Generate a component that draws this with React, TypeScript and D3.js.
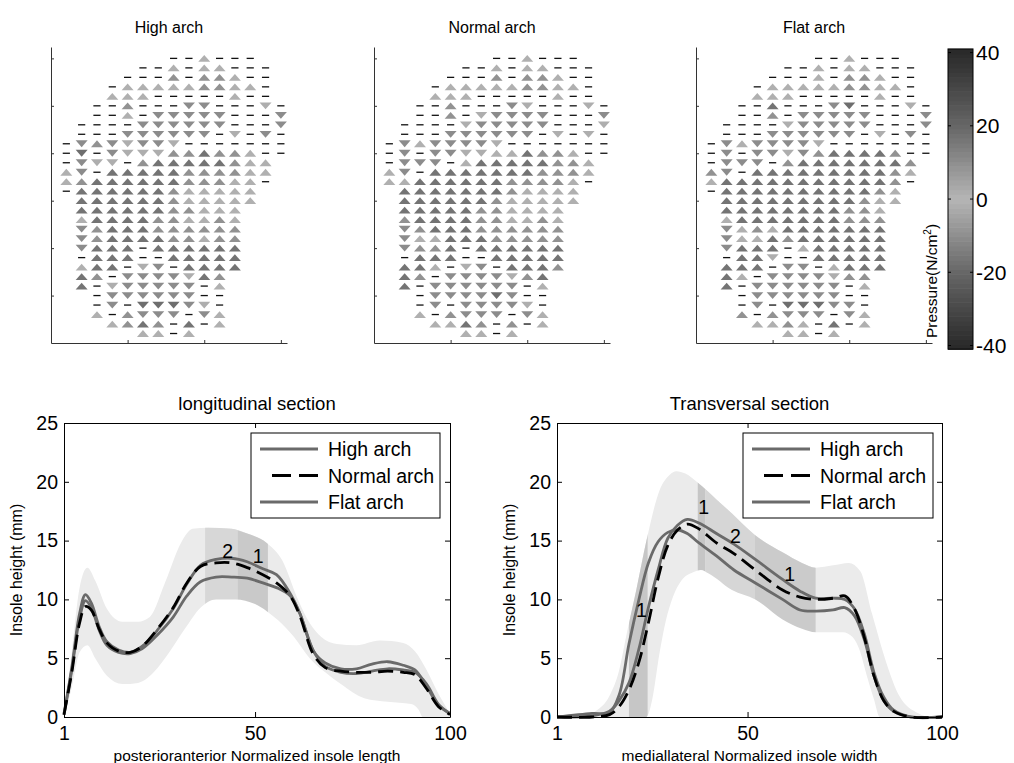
import React, { useEffect, useRef } from 'react';
import * as d3 from 'd3';

const W = 1014;
const H = 763;
const FONT = '"Liberation Sans", Arial, Helvetica, sans-serif';

// ---- top: pressure difference maps (rows top->bottom, 15 columns) ----
// '.' empty, '-' ~0, A/B/C rising (light->dark), a/b/c falling
const panelTitles = ['High arch', 'Normal arch', 'Flat arch'];

const highGrid = [
  '.......--A---..', '.....--A-AA---.', '....---B-BBA--.', '...-AAAAABBAA-.', '...AAA-----A--.',
  '..--B---bb---a-', '..--A-bbbbb---b', '.----bbbbbb---b', '.---bbbbbb-a-b-', '-bBbabba-------',
  '-c-baaaBBCBBA--', '-baa-BCCCCCBAA.', 'Ab-CCCCCBBBBAA.', 'ABCCCCCCBBBAA-.', '-CCCCCCBAAAAA..',
  '.CCCCCCBAAAAA..', '.CCCCCCBBAAA...', '.ACCCCBBAABA...', '.bBCCCBBBBBB...', '.bBCCCCBBABB...',
  '.bCCC-CCCCCC...', '.-CCC--CCCCC...', '.ACC-ab-CCCC...', '.CB-bbbbaCB....', '.C-abbbbb-A....',
  '..-bbbbbb--....', '..-b-cccba-....', '..A-Bbbb-bA....', '...ABCB-C-A....', '.....AA-A......',
];
const normalGrid = [
  '.......--A---..', '.....--A-AA---.', '....---B-BBA--.', '...-AAAAABBAA-.', '...AAA-----A--.',
  '..--B---ba---a-', '..--B-abbbb---b', '.----abbbbb---a', '.---bbbbbb-a-a-', '-bAbbbba-------',
  '-b-bbaaAACBBA--', '-bbb-ACCCCCBBA.', 'Ab-CCCCCCCBBBA.', 'AACCCCCCBBBBA-.', '.CCCCCCCBAAAA..',
  '.CCCCCCBAAAAA..', '.CCCCCBBAAAA...', '.BCCCCBBAABA...', '.bBCCCBBBBBB...', '.bAACCCBBBBB...',
  '.bBBC-CCCCCC...', '.-CCC--CCCCC...', '.CCA-ab-CCCB...', '.CB-bbbbaBC....', '.C-bbbbbb-A....',
  '..-bbbbcb--....', '..-b-bbbba-....', '..A-Bbbb-bA....', '...AACB-B-A....', '.....AA-A......',
];
const flatGrid = [
  '.......--A---..', '.....--A-AA---.', '....---A-BBA--.', '...-AAAAABBAA-.', '...AAA-----A--.',
  '..--C---bc---a-', '..--B-bbbbb---b', '.----abbbbb---b', '.---bbbbbb-a-b-', '-bAbbbba-------',
  '-b-bbabBCCCCB--', '-bbb-BCCCCCCCB.', 'Bb-CCCCCCCCCBA.', 'ACCCCCCCCCCCB-.', '-CCCCCCCCCCBA..',
  '.CCCCCCCCCBAA..', '.CCCCCCCCBBA...', '.ACCCCCCCBBB...', '.bABACCCCCCC...', '.bAACBCCCCCC...',
  '.bCCC-ACCCCC...', '.-CCa--CCCCC...', '.CCC-bb-ACCC...', '.CA-bbbbaBB....', '.C-bbbbbb-A....',
  '..-bbbbbb--....', '..-b-cccbb-....', '..B-Bbbb-bA....', '...AABA-C-A....', '.....AA-A......',
];
const symbolValue: Record<string, number> = { '-': 0, A: 1.5, B: 9, C: 16.5, a: -2, b: -10.5, c: -18 };
const colorbarTicks = [-40, -20, 0, 20, 40];

// ---- bottom left: longitudinal section ----
const lonX = [1, 3, 5, 6.5, 8, 10, 12, 15, 18, 21, 25, 29, 32.5, 36, 40, 44, 48, 52, 55.5, 59, 61.5, 65, 68, 72, 76, 80, 84, 88, 91, 94, 97, 100];
const lonHigh = [0.3, 4.2, 8.8, 10.4, 9.7, 7.7, 6.4, 5.7, 5.5, 6.0, 7.4, 9.2, 11.3, 12.9, 13.4, 13.5, 13.2, 12.6, 12.1, 10.5, 8.8, 5.6, 4.6, 4.1, 4.1, 4.5, 4.7, 4.4, 4.0, 2.6, 1.0, 0.3];
const lonNormal = [0.2, 3.8, 8.0, 9.4, 9.1, 7.5, 6.3, 5.6, 5.5, 6.0, 7.5, 9.3, 11.4, 12.8, 13.1, 13.1, 12.7, 12.1, 11.4, 10.3, 8.6, 5.3, 4.2, 3.9, 3.8, 3.8, 3.9, 3.8, 3.6, 2.4, 0.9, 0.2];
const lonFlat = [0.2, 4.0, 8.4, 9.9, 9.3, 7.4, 6.1, 5.5, 5.4, 5.8, 7.0, 8.5, 10.3, 11.5, 11.9, 11.9, 11.8, 11.4, 11.0, 10.3, 8.8, 5.6, 4.3, 3.8, 3.7, 3.9, 4.1, 4.0, 3.8, 2.8, 1.1, 0.3];
const lonUpperX = [1, 3, 5, 7, 9, 12, 16, 20, 23, 27, 31, 34, 38, 44, 48, 53, 57, 61, 64, 67, 71, 76, 82, 88, 91, 94, 97, 100];
const lonUpper = [0.3, 5.5, 11, 12.7, 11.6, 9.2, 8.1, 8.1, 8.5, 11.5, 14.8, 16.0, 16.1, 16.0, 15.6, 14.8, 13.3, 10.0, 8.0, 6.8, 6.2, 6.1, 6.5, 6.3, 5.6, 4.0, 2.0, 0.3];
const lonLowerX = [1, 3, 5, 7, 9, 12, 16, 20, 24, 28, 32, 36, 40, 45, 50, 53, 56, 60, 64, 68, 72, 78, 84, 90, 92, 93, 100];
const lonLower = [0.1, 2.5, 5.5, 6.1, 5.0, 3.5, 2.8, 2.9, 3.8, 5.5, 7.5, 9.3, 10.0, 10.0, 9.6, 9.0, 8.2, 6.8, 5.0, 3.8, 2.8, 1.6, 1.3, 1.1, 0.6, 0, 0];
const lonBands = [[37.2, 45.5], [45.5, 53.3]];
const lonMarks = [{ t: '2', x: 43, y: 14.1 }, { t: '1', x: 50.8, y: 13.7 }];

// ---- bottom right: transversal section ----
const trX = [1, 10, 14.5, 17, 19.5, 22, 24.5, 27, 29.5, 32, 34.5, 37.5, 42, 46.5, 52, 59, 63.5, 67.5, 72, 75, 77.5, 80, 82.5, 85, 87.5, 92, 100];
const trHigh = [0, 0.1, 0.5, 1.4, 2.9, 5.7, 9.3, 12.5, 15.2, 16.3, 16.8, 16.5, 15.6, 14.7, 13.4, 11.7, 10.7, 10.1, 10.1, 10.0, 9.2, 7.1, 3.8, 1.7, 0.6, 0, 0];
const trNormal = [0, 0, 0.2, 0.9, 2.3, 4.6, 8.0, 11.8, 14.6, 15.9, 16.4, 16.0, 14.8, 13.9, 12.5, 10.8, 10.2, 10.0, 10.1, 10.3, 9.2, 6.8, 3.5, 1.4, 0.5, 0, 0];
const trFlat = [0, 0.3, 0.4, 1.9, 6.2, 9.9, 13.1, 14.9, 15.7, 15.9, 15.6, 14.8, 13.7, 12.5, 11.4, 10.0, 9.1, 9.0, 9.1, 9.3, 8.6, 6.6, 3.5, 1.4, 0.5, 0, 0];
const trUpperX = [1, 7, 9, 11, 14.5, 17, 19, 21.5, 24, 27.4, 30, 31.7, 34, 37.3, 42, 46, 51.8, 59, 64, 67.5, 72, 76, 79, 82, 85.7, 89, 94, 97, 100];
const trUpper = [0, 0, 0.1, 0.5, 1.8, 4.0, 7.2, 11, 15, 19.3, 20.6, 20.9, 20.7, 19.9, 18.5, 17.3, 15.5, 14, 13.1, 12.7, 12.9, 13.1, 12.4, 8.8, 4.6, 1.8, 0.3, 0, 0];
const trLowerX = [1, 24, 25.5, 27.4, 29, 30.8, 33, 36, 38, 40, 46, 52, 59, 64, 67.5, 74.5, 77, 79, 80.5, 82.5, 84, 100];
const trLower = [0, 0, 1.5, 5.5, 8.2, 10.2, 11.6, 12.3, 12.5, 12.2, 10.8, 10, 8.3, 7.5, 7.2, 7.2, 6.8, 5.5, 3.7, 1.5, 0, 0];
const trBands = [[19.5, 24.3], [37.2, 39.1], [39.1, 51.8], [51.8, 67.5]];
const trMarks = [{ t: '1', x: 38.7, y: 17.9 }, { t: '2', x: 46.9, y: 15.4 }, { t: '1', x: 60.8, y: 12.2 }, { t: '1', x: 22.7, y: 9.1 }];

const legendNames = ['High arch', 'Normal arch', 'Flat arch'];

const grayLevel = d3.scaleLinear().domain([0, 20, 40]).range([182, 102, 42]).clamp(true);
const pressureColor = (v: number) => {
  const g = Math.round(grayLevel(Math.abs(v)));
  return `rgb(${g},${g},${g})`;
};

function drawTop(svg: any) {
  const lefts = [51, 374, 696];
  [highGrid, normalGrid, flatGrid].forEach((grid, k) => {
    const x = d3.scaleLinear().domain([0, 15.4]).range([lefts[k], lefts[k] + 236]);
    const y = d3.scaleLinear().domain([0, 31.2]).range([343, 47]);
    const g = svg.append('g');

    const cells: { col: number; row: number; v: number }[] = [];
    grid.forEach((line, r) => {
      line.split('').forEach((ch, i) => {
        if (ch !== '.') cells.push({ col: i + 1, row: 30 - r, v: symbolValue[ch] });
      });
    });

    g.selectAll('path.tri')
      .data(cells.filter(d => d.v !== 0))
      .enter()
      .append('path')
      .attr('class', 'tri')
      .attr('d', d => {
        const cx = x(d.col), cy = y(d.row), hw = 6, hh = 3.4;
        return d.v > 0
          ? `M${cx - hw},${cy + hh}L${cx + hw},${cy + hh}L${cx},${cy - hh}Z`
          : `M${cx - hw},${cy - hh}L${cx + hw},${cy - hh}L${cx},${cy + hh}Z`;
      })
      .attr('fill', d => pressureColor(d.v));

    g.selectAll('line.dash')
      .data(cells.filter(d => d.v === 0))
      .enter()
      .append('line')
      .attr('x1', d => x(d.col) - 3.6)
      .attr('x2', d => x(d.col) + 3.6)
      .attr('y1', d => y(d.row))
      .attr('y2', d => y(d.row))
      .attr('stroke', '#111')
      .attr('stroke-width', 1.3);

    const ax = g.append('g')
      .attr('transform', `translate(0,${y(0)})`)
      .call(d3.axisBottom(x).tickValues([5, 10, 15]).tickSize(-3).tickSizeOuter(0).tickFormat(() => ''));
    const ay = g.append('g')
      .attr('transform', `translate(${x(0)},0)`)
      .call(d3.axisLeft(y).tickValues([5, 10, 15, 20, 25, 30]).tickSize(-3).tickSizeOuter(0).tickFormat(() => ''));
    [ax, ay].forEach(a => a.selectAll('path,line').attr('stroke', '#333'));

    g.append('text')
      .attr('x', (x(0) + x(15.4)) / 2)
      .attr('y', 33)
      .attr('text-anchor', 'middle')
      .attr('font-family', FONT)
      .attr('font-size', 16)
      .text(panelTitles[k]);
  });
}

function drawColorbar(svg: any) {
  const y = d3.scaleLinear().domain([-40, 40]).range([345.5, 52.6]);
  const g = svg.append('g');
  const steps = d3.range(64).map(i => -41 + (82 / 64) * i);
  const h = (82 / 64) * 3.664;
  g.selectAll('rect.cb')
    .data(steps)
    .enter()
    .append('rect')
    .attr('x', 948)
    .attr('width', 25)
    .attr('y', d => y(d) - h)
    .attr('height', h + 0.6)
    .attr('fill', d => pressureColor(d + 41 / 64));
  g.append('rect').attr('x', 948).attr('y', y(41)).attr('width', 25).attr('height', y(-41) - y(41))
    .attr('fill', 'none').attr('stroke', '#000').attr('stroke-width', 1);
  colorbarTicks.forEach(t => {
    g.append('line').attr('x1', 948).attr('x2', 951).attr('y1', y(t)).attr('y2', y(t)).attr('stroke', '#000');
    g.append('line').attr('x1', 970).attr('x2', 973).attr('y1', y(t)).attr('y2', y(t)).attr('stroke', '#000');
    g.append('text')
      .attr('x', 976)
      .attr('y', y(t))
      .attr('dy', '0.36em')
      .attr('font-family', FONT)
      .attr('font-size', 21)
      .text(String(t));
  });
  const lab = g.append('text')
    .attr('transform', 'translate(937,338) rotate(-90)')
    .attr('font-family', FONT)
    .attr('font-size', 15.5);
  lab.append('tspan').text('Pressure(N/cm');
  lab.append('tspan').attr('dy', -6).attr('font-size', 10).text('2');
  lab.append('tspan').attr('dy', 6).text(')');
}

function drawSection(svg: any, cfg: any) {
  const { left, right, top, bottom, title, xlabel, id } = cfg;
  const x = d3.scaleLinear().domain([1, 100]).range([left, right]);
  const y = d3.scaleLinear().domain([0, 25]).range([bottom, top]);
  const g = svg.append('g');
  const defs = g.append('defs');

  const area = (xs: number[], vs: number[]) =>
    d3.area<number>().x((_, i) => x(xs[i])).y0(y(0)).y1(v => y(v)).curve(d3.curveMonotoneX)(vs);

  g.append('path').attr('d', area(cfg.upperX, cfg.upper)).attr('fill', '#ebebeb');
  cfg.bands.forEach((b: number[], i: number) => {
    const cid = `${id}-band-${i}`;
    defs.append('clipPath').attr('id', cid).append('rect')
      .attr('x', x(b[0])).attr('width', x(b[1]) - x(b[0])).attr('y', top).attr('height', bottom - top);
    g.append('path').attr('d', area(cfg.upperX, cfg.upper)).attr('fill', cfg.bandFills[i]).attr('clip-path', `url(#${cid})`);
  });
  g.append('path').attr('d', area(cfg.lowerX, cfg.lower)).attr('fill', '#fff');

  const line = (vs: number[]) =>
    d3.line<number>().x((_, i) => x(cfg.meanX[i])).y(v => y(v)).curve(d3.curveCatmullRom.alpha(0.5))(vs);
  const series = [
    { v: cfg.high, color: '#6a6a6a', dash: null },
    { v: cfg.flat, color: '#6a6a6a', dash: null },
    { v: cfg.normal, color: '#000', dash: '15,7' },
  ];
  series.forEach(s => {
    g.append('path').attr('d', line(s.v)).attr('fill', 'none').attr('stroke', s.color)
      .attr('stroke-width', 2.8).attr('stroke-dasharray', s.dash);
  });

  cfg.marks.forEach((m: any) => {
    g.append('text').attr('x', x(m.x)).attr('y', y(m.y)).attr('dy', '0.36em').attr('text-anchor', 'middle')
      .attr('font-family', FONT).attr('font-size', 19.5).text(m.t);
  });

  const axes = [
    g.append('g').attr('transform', `translate(${left},0)`)
      .call(d3.axisLeft(y).tickValues([0, 5, 10, 15, 20, 25]).tickSize(-5).tickSizeOuter(0).tickPadding(6)),
    g.append('g').attr('transform', `translate(${right},0)`)
      .call(d3.axisRight(y).tickValues([0, 5, 10, 15, 20, 25]).tickSize(-5).tickSizeOuter(0).tickFormat(() => '')),
    g.append('g').attr('transform', `translate(0,${bottom})`)
      .call(d3.axisBottom(x).tickValues([1, 50, 100]).tickSize(-5).tickSizeOuter(0).tickPadding(9)),
    g.append('g').attr('transform', `translate(0,${top})`)
      .call(d3.axisTop(x).tickValues([1, 50, 100]).tickSize(-5).tickSizeOuter(0).tickFormat(() => '')),
  ];
  axes.forEach(a => {
    a.attr('font-family', FONT).attr('font-size', 19.5);
    a.selectAll('path,line').attr('stroke', '#000');
    a.selectAll('text').attr('fill', '#000');
  });

  g.append('text').attr('x', (left + right) / 2).attr('y', 410).attr('text-anchor', 'middle')
    .attr('font-family', FONT).attr('font-size', 18.5).text(title);
  g.append('text').attr('x', (left + right) / 2).attr('y', 761).attr('text-anchor', 'middle')
    .attr('font-family', FONT).attr('font-size', 15.5).text(xlabel);
  g.append('text').attr('transform', `translate(${left - 42},${(top + bottom) / 2}) rotate(-90)`)
    .attr('text-anchor', 'middle').attr('font-family', FONT).attr('font-size', 16).text('Insole height (mm)');

  const lg = g.append('g').attr('transform', `translate(${cfg.legendLeft},433)`);
  lg.append('rect').attr('width', cfg.legendWidth).attr('height', 85).attr('fill', '#fff').attr('stroke', '#000');
  legendNames.forEach((name, i) => {
    const ly = 16 + i * 26.5;
    const isNormal = i === 1;
    lg.append('line').attr('x1', isNormal ? 21 : 9).attr('x2', 67).attr('y1', ly).attr('y2', ly)
      .attr('stroke', isNormal ? '#000' : '#6a6a6a').attr('stroke-width', 2.8)
      .attr('stroke-dasharray', isNormal ? '19,8' : null);
    lg.append('text').attr('x', 77).attr('y', ly).attr('dy', '0.36em')
      .attr('font-family', FONT).attr('font-size', 19.5).text(name);
  });
}

export default function App() {
  const ref = useRef<SVGSVGElement>(null);

  useEffect(() => {
    const svg = d3.select(ref.current);
    svg.selectAll('*').remove();
    drawTop(svg);
    drawColorbar(svg);
    drawSection(svg, {
      id: 'lon', left: 64, right: 450, top: 423, bottom: 717,
      title: 'longitudinal section', xlabel: 'posterioranterior Normalized insole length',
      meanX: lonX, high: lonHigh, normal: lonNormal, flat: lonFlat,
      upperX: lonUpperX, upper: lonUpper, lowerX: lonLowerX, lower: lonLower,
      bands: lonBands, bandFills: ['#d7d7d7', '#c9c9c9'], marks: lonMarks,
      legendLeft: 251, legendWidth: 189,
    });
    drawSection(svg, {
      id: 'tr', left: 557, right: 942, top: 423, bottom: 717,
      title: 'Transversal section', xlabel: 'mediallateral Normalized insole width',
      meanX: trX, high: trHigh, normal: trNormal, flat: trFlat,
      upperX: trUpperX, upper: trUpper, lowerX: trLowerX, lower: trLower,
      bands: trBands, bandFills: ['#c6c6c6', '#c6c6c6', '#d6d6d6', '#cbcbcb'], marks: trMarks,
      legendLeft: 743, legendWidth: 190,
    });
  }, []);

  return (
    <svg
      ref={ref}
      width={W}
      height={H}
      style={{ position: 'absolute', left: 0, top: 0, background: '#fff' }}
    />
  );
}
